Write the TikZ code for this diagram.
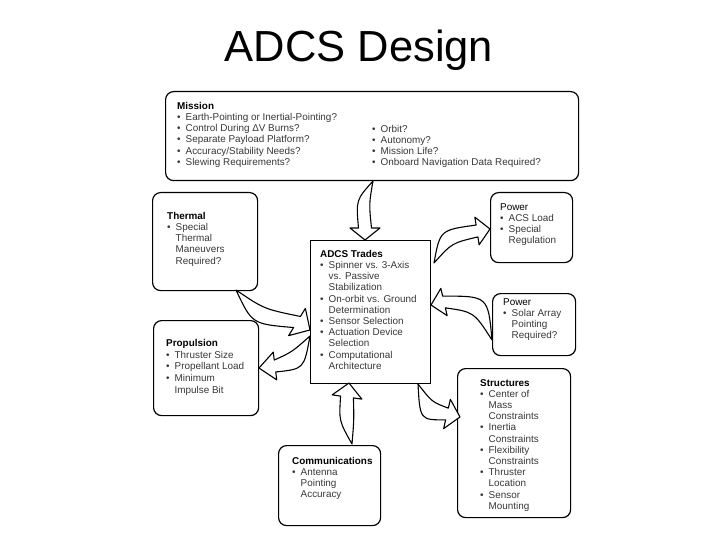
\documentclass[tikz,border=0pt]{standalone}
\usepackage{fontspec}
\setmainfont{Liberation Sans}
\usetikzlibrary{calc}
\newcommand{\bu}{\makebox[8.5pt][l]{•}}
\newcommand{\ii}{\hspace*{8.5pt}}
\newcommand{\hd}[1]{\textbf{\color{black}#1}}
% #1 tail, #2 ctrl (+90 side), #3 ctrl (-90 side), #4 head base, #5 tip, #6 shaft half width, #7 head half width
\newcommand{\barrow}[7]{%
  \draw[blockarrow] (#1) .. controls (#2) .. ($(#4)!#6!90:(#5)$) -- ($(#4)!#7!90:(#5)$) -- (#5)
    -- ($(#4)!#7!-90:(#5)$) -- ($(#4)!#6!-90:(#5)$) .. controls (#3) .. (#1) -- cycle;}
\tikzset{
  box/.style={draw=black, line width=1.2pt, rounded corners=8pt, inner sep=0pt, anchor=north west},
  sqbox/.style={draw=black, line width=1.2pt, inner sep=0pt, anchor=north west},
  txt/.style={anchor=north west, inner sep=0pt, align=left, font=\fontsize{9.9}{11.2}\selectfont, text=black!78},
  blockarrow/.style={draw=black, line width=1.1pt, fill=white, line join=round},
}
\begin{document}
\begin{tikzpicture}[x=1pt,y=-1pt]
\useasboundingbox (0,0) rectangle (720,540);
\fill[white] (0,0) rectangle (720,540);
% title
\node[anchor=base, inner sep=0pt, font=\fontsize{43.5}{48}\selectfont] (title) at (359,62) {ADCS Design};
% boxes
\node[box, minimum width=413pt, minimum height=89pt] (mission) at (165,91) {};
\node[box, minimum width=105pt, minimum height=98pt] (thermal) at (152,192) {};
\node[sqbox, minimum width=120pt, minimum height=143pt] (adcs) at (310,240) {};
\node[box, minimum width=105pt, minimum height=95pt] (prop) at (153,320) {};
\node[box, minimum width=82pt, minimum height=70pt] (power1) at (490,192) {};
\node[box, minimum width=83pt, minimum height=62pt] (power2) at (492,293) {};
\node[box, minimum width=113pt, minimum height=149pt] (struct) at (457,368) {};
\node[box, minimum width=102pt, minimum height=80pt] (comms) at (278,445) {};
% texts
\node[txt] (missionL) at (177,102) {\hd{Mission}\\
\bu Earth-Pointing or Inertial-Pointing?\\
\bu Control During ΔV  Burns?\\
\bu Separate Payload Platform?\\
\bu Accuracy/Stability Needs?\\
\bu Slewing Requirements?};
\node[txt] (missionR) at (372,125) {\bu Orbit?\\
\bu Autonomy?\\
\bu Mission Life?\\
\bu Onboard Navigation Data Required?};
\node[txt] (thermalT) at (167,212) {\hd{Thermal}\\
\bu Special\\ \ii Thermal\\ \ii Maneuvers\\ \ii Required?};
\node[txt] (adcsT) at (320,250) {\hd{ADCS Trades}\\
\bu Spinner vs. 3-Axis\\ \ii vs. Passive\\ \ii Stabilization\\
\bu On-orbit vs. Ground\\ \ii Determination\\
\bu Sensor Selection\\
\bu Actuation Device\\ \ii Selection\\
\bu Computational\\ \ii Architecture};
\node[txt, font=\fontsize{9.9}{11.8}\selectfont] (propT) at (166,339) {\hd{Propulsion}\\
\bu Thruster Size\\
\bu Propellant Load\\
\bu Minimum\\ \ii Impulse Bit};
\node[txt] (power1T) at (500,203) {{\color{black}Power}\\
\bu ACS Load\\
\bu Special\\ \ii Regulation};
\node[txt] (power2T) at (503,298) {{\color{black}Power}\\
\bu Solar Array\\ \ii Pointing\\ \ii Required?};
\node[txt] (structT) at (480,379) {\hd{Structures}\\
\bu Center of\\ \ii Mass\\ \ii Constraints\\
\bu Inertia\\ \ii Constraints\\
\bu Flexibility\\ \ii Constraints\\
\bu Thruster\\ \ii Location\\
\bu Sensor\\ \ii Mounting};
\node[txt] (commsT) at (292,457) {\hd{Communications}\\
\bu Antenna\\ \ii Pointing\\ \ii Accuracy};
% arrow end points
\coordinate (a1t) at (373,181); \coordinate (a1b) at (365,228); \coordinate (a1p) at (365,240);
\coordinate (a2t) at (236,290); \coordinate (a2b) at (297,322); \coordinate (a2p) at (310,330);
\coordinate (a3t) at (310,336); \coordinate (a3b) at (275,366); \coordinate (a3p) at (259,368);
\coordinate (a4t) at (434,263); \coordinate (a4b) at (477,231); \coordinate (a4p) at (490,229);
\coordinate (a5t) at (492,340); \coordinate (a5b) at (444,302); \coordinate (a5p) at (431,305);
\coordinate (a6t) at (418,384); \coordinate (a6b) at (447,414); \coordinate (a6p) at (460,417);
\coordinate (a7t) at (352,444); \coordinate (a7b) at (347,397); \coordinate (a7p) at (349,383);
% block arrows
\barrow{a1t}{369,204}{356,200}{a1b}{a1p}{6.5pt}{15pt}
\barrow{a2t}{264,309}{252,324}{a2b}{a2p}{6.5pt}{16pt}
\barrow{a3t}{304,369}{292,352}{a3b}{a3p}{6pt}{14pt}
\barrow{a4t}{440,230}{452,243}{a4b}{a4p}{6pt}{14pt}
\barrow{a5t}{474,312}{488,296}{a5b}{a5p}{6pt}{14pt}
\barrow{a6t}{432,402}{420,420}{a6b}{a6p}{6pt}{15pt}
\barrow{a7t}{339,421}{354,420}{a7b}{a7p}{6.5pt}{15pt}
\end{tikzpicture}
\end{document}
